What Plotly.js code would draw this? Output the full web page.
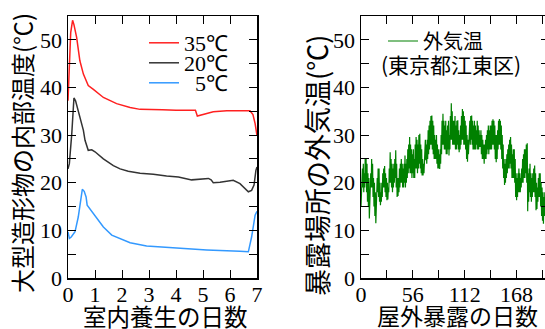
<!DOCTYPE html>
<html><head><meta charset="utf-8">
<script src="https://cdn.plot.ly/plotly-3.0.1.min.js"></script>
<style>html,body{margin:0;padding:0;overflow:hidden;background:#fff}#chart{width:552px;height:329px}</style>
</head><body><div id="chart"></div><script>
// ---- Left panel: indoor curing (days) vs internal temperature ----
const seriesNames = ["35℃", "20℃", "\u00A0\u00A05℃"];
const days35 = [0, 0.05, 0.1, 0.17, 0.22, 0.32, 0.44, 0.57, 0.75, 0.94, 1.31, 1.8, 2.3, 2.67, 3.0, 3.5, 4.0, 4.5, 4.72, 4.79, 5.0, 5.38, 5.88, 6.3, 6.74, 6.85, 6.93, 7.0];
const temp35 = [37.2, 44, 51.5, 54.1, 53.2, 50.5, 45.6, 42.8, 40.4, 39.6, 37.9, 36.6, 35.8, 35.4, 35.3, 35.3, 35.2, 35.2, 35.2, 34.0, 34.3, 34.9, 35.1, 35.1, 35.1, 34.3, 32.4, 29.9];
const days20 = [0, 0.05, 0.14, 0.22, 0.28, 0.38, 0.57, 0.63, 0.75, 0.88, 1.0, 1.31, 1.68, 1.93, 2.23, 2.67, 3.16, 3.65, 4.09, 4.58, 5.2, 5.3, 5.38, 5.63, 6.12, 6.37, 6.68, 6.8, 6.89, 6.96, 7.0];
const temp20 = [22.9, 24, 30.3, 37.8, 37.2, 35.1, 31.0, 28.9, 26.8, 26.9, 26.5, 25.0, 23.6, 22.9, 22.4, 22.0, 21.8, 21.4, 21.2, 20.6, 20.9, 20.6, 20.0, 20.1, 20.5, 19.8, 18.1, 18.4, 19.5, 22.6, 23.3];
const days5 = [0, 0.05, 0.12, 0.26, 0.38, 0.47, 0.53, 0.6, 0.67, 0.71, 0.94, 1.31, 1.62, 1.93, 2.3, 2.91, 3.9, 5.14, 6.37, 6.68, 6.8, 6.93, 7.0];
const temp5 = [9.7, 8.3, 8.6, 9.7, 12.8, 17.0, 18.6, 18.2, 17.0, 15.3, 13.5, 10.7, 9.0, 8.3, 7.4, 6.7, 6.3, 5.9, 5.6, 5.5, 8.6, 13.2, 14.0];
const curingTicks = [0, 1, 2, 3, 4, 5, 6, 7];

// ---- Right panel: outdoor exposure (days) vs outside air temperature ----
const outdoorName = "外気温";
const outdoorPlace = "(東京都江東区)";
// daily highs and lows, day 0 .. 202
const outdoorHigh = [
  20, 23, 24, 22, 25, 25, 24, 22, 21, 19,
  22, 25, 24, 21, 20, 18, 17, 21, 23, 23,
  20, 18, 20, 22, 23, 23.5, 22, 21, 20, 19,
  23, 26.4, 25, 24, 23, 24, 25, 26.8, 24, 21,
  21, 23, 24, 25, 24, 23, 24, 25.7, 24, 25,
  27, 28, 29.6, 28, 27, 26, 27, 25, 28, 29.6,
  29, 28, 30, 30.3, 28, 27, 25, 24, 27, 29,
  28, 29, 31, 32, 33, 34, 34.1, 33, 32, 30,
  29, 30, 28, 27, 26, 27, 30, 33, 34.5, 33,
  32, 33, 31, 32, 33, 30, 34, 36.7, 35, 33,
  33, 34, 32, 33, 33.1, 31, 30, 32, 34, 35.5,
  35, 34, 33, 32, 30, 29, 31, 33, 34, 34.1,
  33, 32, 33, 32, 31, 33, 32, 31, 30, 31,
  30, 29, 28, 28, 29, 30, 31, 32, 31, 32,
  32, 33, 33.3, 33, 32, 30, 30, 31, 33, 33.4,
  33, 32, 30, 28, 25, 24, 25, 26, 27, 28,
  29, 29.6, 28, 26, 27, 27, 25, 22, 21, 22,
  23, 22, 21, 23, 25, 26, 27, 27, 28, 28.3,
  22, 23, 24, 22, 21, 22, 23, 23.6, 22, 20,
  19, 21, 22, 22, 20, 19, 18, 17, 18, 20,
  21, 20, 19];
const outdoorLow = [
  15, 17, 19, 18, 19, 20, 18, 16, 15, 12.5,
  16, 19, 19, 17, 15, 13, 11.5, 14, 18, 17,
  16, 15.3, 16, 17, 19, 19, 18, 17, 16.3, 16.5,
  18, 20, 20, 19, 18, 19, 20, 21, 19, 17,
  17.2, 18, 19, 20, 20, 19, 19, 20, 19, 20,
  21, 22, 23, 22, 22, 21, 22, 21, 21, 23,
  23, 22, 23, 24, 23, 22, 21.5, 21.5, 22, 24,
  24.7, 24, 25, 26, 27, 28, 28, 27, 26, 25,
  25, 25, 24, 23, 23, 22.9, 24, 26, 28, 28,
  27, 27, 26, 26, 27, 25.7, 27, 29, 29, 28,
  28, 28, 27, 27, 28, 27, 26.4, 27, 28, 29,
  29, 28, 28, 27, 25, 24.4, 26, 28, 28, 29,
  28, 27, 27, 27, 27, 28, 27, 27, 27.5, 27.5,
  26, 25, 25, 24, 25, 25, 26, 27, 26, 27,
  27, 27, 28, 28, 27, 25, 24.3, 25, 27, 28,
  28, 27, 25, 23, 21, 19.5, 20, 21, 22, 23,
  23, 24, 23, 21, 21, 21, 20, 17, 16.3, 17,
  18, 18, 18, 19, 20, 20, 21, 21, 22, 20,
  14, 16, 18, 17, 16, 17, 18, 18, 17, 14.2,
  14.5, 16, 17, 17, 15, 13, 12, 11.4, 13, 14,
  15, 15, 14];
const exposureTicks = [0, 28, 56, 84, 112, 140, 168, 196];
const exposureLabels = ["0", "", "56", "", "112", "", "168", ""];
const tempTicks = [0, 5, 10, 15, 20, 25, 30, 35, 40, 45, 50, 55];
const tempLabels = ["0", "", "10", "", "20", "", "30", "", "40", "", "50", ""];
const axisTitles = {
  x1: "室内養生の日数",
  y1: "大型造形物の内部温度(℃)",
  x2: "屋外暴露の日数",
  y2: "暴露場所の外気温(℃)"
};

// build interleaved low/high sequence for the dense outdoor record
const outX = [], outY = [];
for (let d = 0; d < outdoorHigh.length; d++) {
  outX.push(d); outY.push(outdoorLow[d]);
  outX.push(d + 0.5); outY.push(outdoorHigh[d]);
}

const SERIF = "Liberation Serif, Times New Roman, serif";
const JFONT = "Noto Sans CJK JP";

const traces = [
  {x: days35, y: temp35, name: seriesNames[0], type: "scatter", mode: "lines", line: {color: "#ff2020", width: 1.5}, xaxis: "x", yaxis: "y", legend: "legend"},
  {x: days20, y: temp20, name: seriesNames[1], type: "scatter", mode: "lines", line: {color: "#333333", width: 1.5}, xaxis: "x", yaxis: "y", legend: "legend2"},
  {x: days5, y: temp5, name: seriesNames[2], type: "scatter", mode: "lines", line: {color: "#3399ff", width: 1.5}, xaxis: "x", yaxis: "y", legend: "legend3"},
  {x: outX, y: outY, name: outdoorName, type: "scatter", mode: "lines", line: {color: "#008000", width: 1.2}, xaxis: "x2", yaxis: "y2", legend: "legend4"}
];

const W = 552, H = 329;
const axisCommon = {
  showline: true, linecolor: "#000", linewidth: 1.5, mirror: "allticks",
  ticks: "inside", ticklen: 8, tickwidth: 1, tickcolor: "#000",
  showgrid: false, zeroline: false, fixedrange: true,
  tickfont: {family: SERIF, size: 22, color: "#000"}
};
const legendCommon = {
  bgcolor: "rgba(0,0,0,0)", borderwidth: 0, xanchor: "left", yanchor: "middle",
  font: {family: SERIF, size: 22, color: "#000"}
};
const px = v => v / W, py = v => (H - v) / H;

const layout = {
  width: W, height: H,
  margin: {l: 0, r: 0, t: 0, b: 0},
  paper_bgcolor: "#fff", plot_bgcolor: "#fff",
  showlegend: true,
  xaxis: Object.assign({}, axisCommon, {
    domain: [px(68), px(257)], range: [0, 7], tickvals: curingTicks, ticklabelstandoff: -4
  }),
  yaxis: Object.assign({}, axisCommon, {
    domain: [(H - 278) / H, (H - 16) / H], range: [0, 55], tickvals: tempTicks, ticktext: tempLabels
  }),
  xaxis2: Object.assign({}, axisCommon, {
    domain: [px(361), px(549)], range: [0, 203], tickvals: exposureTicks, ticktext: exposureLabels, anchor: "y2", ticklabelstandoff: -4
  }),
  yaxis2: Object.assign({}, axisCommon, {
    domain: [(H - 278) / H, (H - 16) / H], range: [0, 55], tickvals: tempTicks, ticktext: tempLabels, anchor: "x2"
  }),
  legend: Object.assign({}, legendCommon, {x: px(144), y: py(43)}),
  legend2: Object.assign({}, legendCommon, {x: px(144), y: py(63)}),
  legend3: Object.assign({}, legendCommon, {x: px(144), y: py(83)}),
  legend4: Object.assign({}, legendCommon, {x: px(383), y: py(41), font: {family: JFONT, size: 20, color: "#000"}}),
  annotations: [
    {text: outdoorPlace, xref: "paper", yref: "paper", x: px(379), y: py(64), xanchor: "left", yanchor: "middle",
     showarrow: false, font: {family: JFONT, size: 21, color: "#000"}},
    {text: axisTitles.x1, xref: "paper", yref: "paper", x: px(165.5), y: py(316), xanchor: "center", yanchor: "middle",
     showarrow: false, borderpad: 0, font: {family: JFONT, size: 23.5, color: "#000"}},
    {text: axisTitles.x2, xref: "paper", yref: "paper", x: px(457), y: py(315), xanchor: "center", yanchor: "middle",
     showarrow: false, borderpad: 0, font: {family: JFONT, size: 23, color: "#000"}},
    {text: axisTitles.y1, xref: "paper", yref: "paper", x: px(21), y: py(153), xanchor: "center", yanchor: "middle",
     textangle: -90, showarrow: false, font: {family: JFONT, size: 24, color: "#000"}},
    {text: axisTitles.y2, xref: "paper", yref: "paper", x: px(316), y: py(166), xanchor: "center", yanchor: "middle",
     textangle: -90, showarrow: false, font: {family: JFONT, size: 27, color: "#000"}}
  ]
};

Plotly.newPlot("chart", traces, layout, {displayModeBar: false, staticPlot: true});
</script></body></html>
